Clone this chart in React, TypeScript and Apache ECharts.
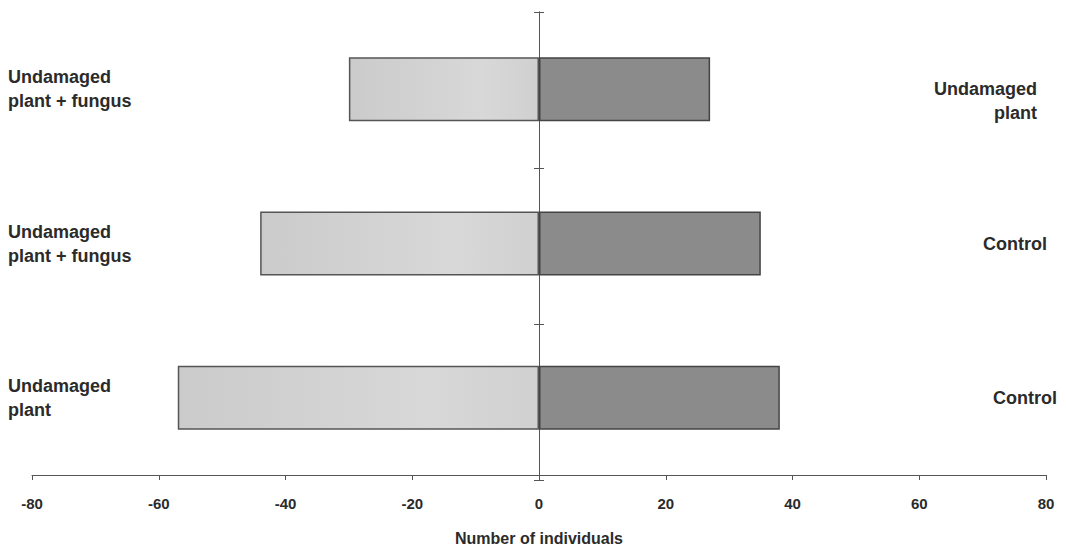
import React, { useEffect, useRef } from "react";
import * as echarts from "echarts";

const leftCategories = ["Undamaged\nplant + fungus", "Undamaged\nplant + fungus", "Undamaged\nplant"];
const rightCategories = ["Undamaged\nplant", "Control", "Control"];
const leftValues = [-30, -44, -57];
const rightValues = [27, 35, 38];
const xMin = -80;
const xMax = 80;
const xInterval = 20;
const xAxisName = "Number of individuals";

export default function App() {
  const ref = useRef<HTMLDivElement>(null);
  useEffect(() => {
    if (!ref.current) return;
    const chart = echarts.init(ref.current, null, { renderer: "svg" });
    const textColor = "#2b2b2b";
    const lineColor = "#555";
    const font = "'Liberation Sans', Arial, sans-serif";
    const gridRect = { left: 32, right: 20, top: 12, bottom: 71 };
    const rightPads = [20, 10, 0];
    const centerAxis = (gridIndex: number, inside: boolean) => ({
      type: "category",
      gridIndex,
      position: "left",
      inverse: true,
      data: leftCategories,
      axisLine: { show: true, onZero: true, lineStyle: { color: lineColor, width: 1 } },
      axisTick: { show: true, inside, length: 5, lineStyle: { color: lineColor } },
      axisLabel: { show: false },
    });
    const hiddenX = (gridIndex: number) => ({
      type: "value",
      gridIndex,
      min: xMin,
      max: xMax,
      interval: xInterval,
      show: false,
    });
    chart.setOption({
      animation: false,
      backgroundColor: "#ffffff",
      textStyle: { fontFamily: font },
      grid: [{ ...gridRect }, { ...gridRect }, { ...gridRect }],
      xAxis: [
        {
          type: "value",
          gridIndex: 0,
          min: xMin,
          max: xMax,
          interval: xInterval,
          name: xAxisName,
          nameLocation: "middle",
          nameGap: 55,
          nameTextStyle: { color: textColor, fontSize: 16, fontWeight: "bold", fontFamily: font },
          axisLine: { show: true, onZero: false, lineStyle: { color: lineColor, width: 1 } },
          axisTick: { show: true, length: 5, lineStyle: { color: lineColor } },
          axisLabel: { color: textColor, fontSize: 15, fontWeight: "bold", margin: 21, fontFamily: font },
          splitLine: { show: false },
        },
        hiddenX(1),
        hiddenX(2),
      ],
      yAxis: [
        {
          type: "category",
          gridIndex: 0,
          position: "left",
          inverse: true,
          data: leftCategories,
          axisLine: { show: false, onZero: false },
          axisTick: { show: false },
          axisLabel: {
            align: "left",
            margin: 24,
            color: textColor,
            fontSize: 18,
            fontWeight: "bold",
            lineHeight: 24,
            fontFamily: font,
          },
        },
        {
          type: "category",
          gridIndex: 0,
          position: "right",
          inverse: true,
          data: rightCategories,
          axisLine: { show: false, onZero: false },
          axisTick: { show: false },
          axisLabel: {
            align: "right",
            margin: 11,
            color: textColor,
            fontSize: 18,
            fontWeight: "bold",
            lineHeight: 24,
            fontFamily: font,
            formatter: (value: string, index: number) => {
              const lines = value.split("\n");
              const key = "r" + index;
              if (lines.length > 1) lines.unshift(" ");
              return lines.map((l) => `{${key}|${l}}`).join("\n");
            },
            rich: {
              r0: { padding: [0, rightPads[0], 0, 0], fontSize: 18, fontWeight: "bold", lineHeight: 24, color: textColor, fontFamily: font },
              r1: { padding: [0, rightPads[1], 0, 0], fontSize: 18, fontWeight: "bold", lineHeight: 24, color: textColor, fontFamily: font },
              r2: { padding: [0, rightPads[2], 0, 0], fontSize: 18, fontWeight: "bold", lineHeight: 24, color: textColor, fontFamily: font },
            },
          },
        },
        centerAxis(1, false),
        centerAxis(2, true),
      ],
      series: [
        {
          type: "bar",
          xAxisIndex: 0,
          yAxisIndex: 0,
          data: leftValues,
          barWidth: 64,
          barGap: "-100%",
          itemStyle: {
            color: new echarts.graphic.LinearGradient(0, 0, 1, 0, [
              { offset: 0, color: "#cbcbcb" },
              { offset: 0.7, color: "#d8d8d8" },
              { offset: 1, color: "#d0d0d0" },
            ]),
            borderColor: "#555",
            borderWidth: 1.5,
          },
        },
        {
          type: "bar",
          xAxisIndex: 0,
          yAxisIndex: 0,
          data: rightValues,
          barWidth: 64,
          barGap: "-100%",
          itemStyle: {
            color: "#8b8b8b",
            borderColor: "#444",
            borderWidth: 1.5,
          },
        },
      ],
    });
    return () => chart.dispose();
  }, []);
  return (
    <div
      ref={ref}
      style={{ position: "fixed", left: 0, top: 0, width: 1066, height: 551 }}
    />
  );
}
